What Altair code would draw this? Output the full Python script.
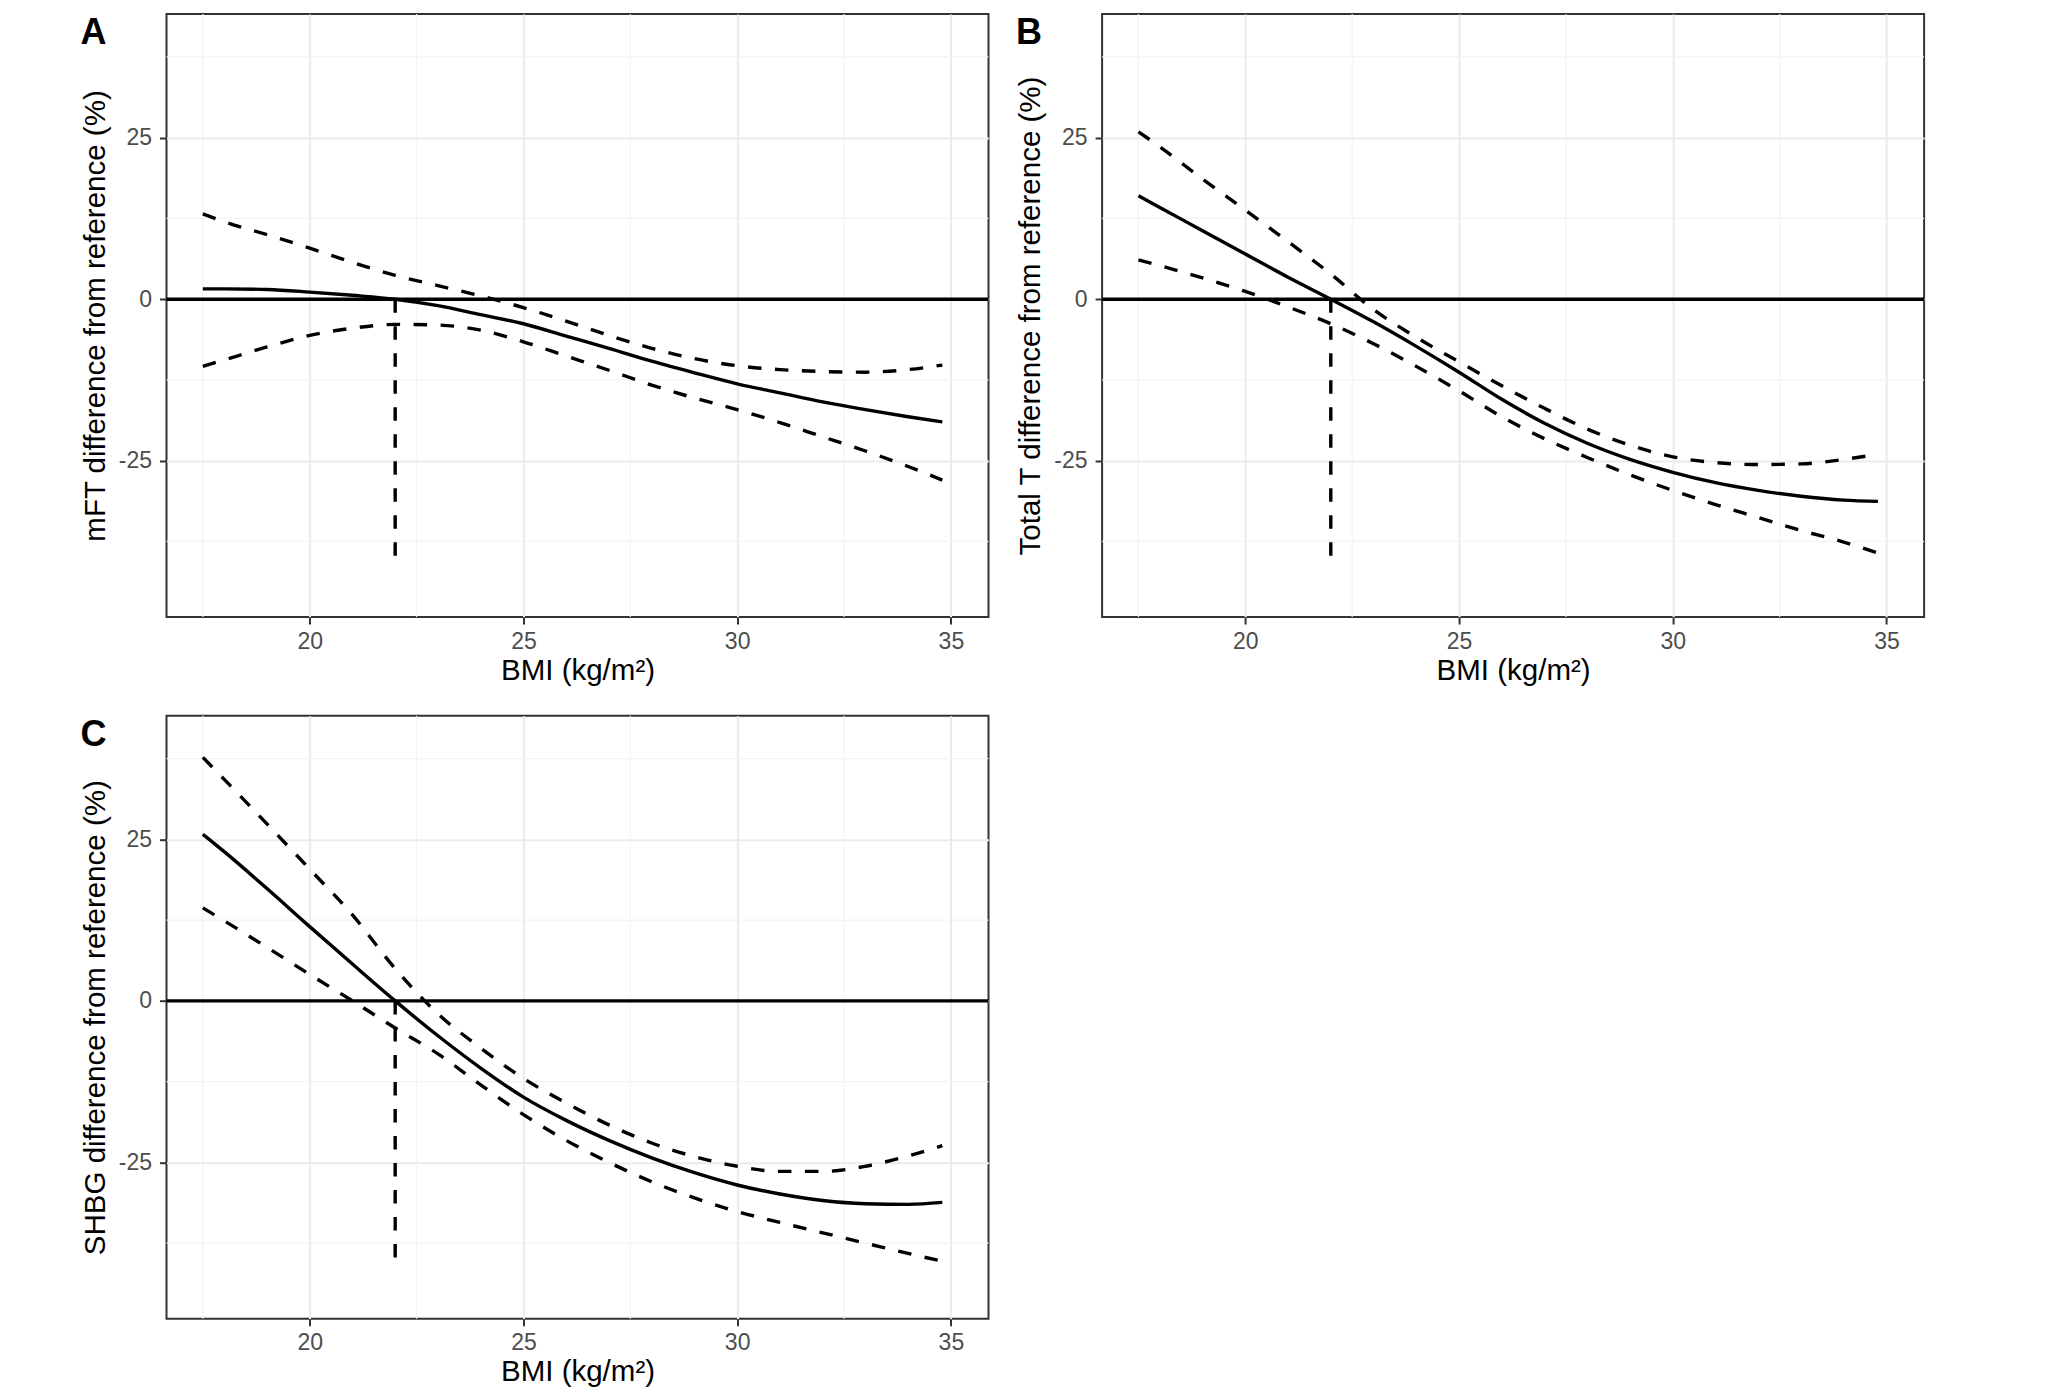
import altair as alt
import pandas as pd

# ---- data ----
bmi = [17.5, 18, 19, 20, 21, 22, 23, 24, 25, 26, 27, 28, 29, 30, 31, 32, 33, 34, 34.8]

a_est = [1.6, 1.6, 1.5, 1.1, 0.6, 0.0, -1.0, -2.4, -3.8, -5.7, -7.6, -9.6, -11.4, -13.1, -14.5, -15.9, -17.1, -18.2, -19.0]
a_low = [-10.4, -9.4, -7.4, -5.6, -4.5, -3.9, -4.0, -4.8, -6.6, -8.8, -11.0, -13.3, -15.3, -17.1, -19.1, -21.3, -23.5, -25.9, -28.0]
a_upp = [13.2, 12.0, 10.0, 7.9, 5.7, 3.7, 2.1, 0.5, -1.3, -3.4, -5.6, -7.6, -9.2, -10.3, -10.9, -11.2, -11.3, -10.9, -10.2]

b_est = [16.0, 14.2, 10.6, 7.0, 3.4, 0.0, -3.5, -7.3, -11.3, -15.5, -19.2, -22.3, -24.8, -26.8, -28.4, -29.6, -30.5, -31.1, -31.3]
b_low = [6.1, 5.2, 3.3, 1.2, -1.2, -3.8, -6.9, -10.4, -14.2, -18.2, -21.6, -24.5, -27.2, -29.6, -31.8, -33.8, -35.8, -37.6, -39.3]
b_upp = [25.9, 23.6, 18.6, 13.8, 8.9, 3.9, -1.6, -5.9, -9.7, -13.4, -16.9, -20.1, -22.6, -24.4, -25.3, -25.6, -25.5, -24.8, -24.0]

c_est = [25.8, 23.1, 17.4, 11.5, 5.7, 0.0, -5.4, -10.4, -14.9, -18.5, -21.6, -24.3, -26.6, -28.5, -29.9, -30.9, -31.4, -31.5, -31.2]
c_low = [14.4, 12.4, 8.3, 4.1, 0.0, -4.2, -8.2, -13.0, -17.6, -21.6, -25.0, -28.0, -30.5, -32.6, -34.3, -35.9, -37.5, -39.1, -40.3]
c_upp = [37.7, 34.3, 27.4, 20.4, 13.3, 5.0, -2.0, -7.3, -12.0, -15.8, -19.2, -22.0, -24.1, -25.6, -26.4, -26.4, -25.6, -24.0, -22.4]

ref_bmi = [22]
ref_top = [0]
ref_bottom = [-40]

x_ticks = [20, 25, 30, 35]
x_minor = [17.5, 22.5, 27.5, 32.5]
y_ticks = [-25, 0, 25]
y_minor = [-37.5, -12.5, 12.5, 37.5]

x_domain = [16.65, 35.88]
y_domain = [-49.2, 44.15]

FONT = "Liberation Sans"
W, H = 822, 603


def panel(letter, ytitle, est, low, upp):
    n = len(bmi)
    df = pd.DataFrame({
        "bmi": bmi * 3,
        "val": est + low + upp,
        "band": ["est"] * n + ["low"] * n + ["upp"] * n,
    })
    xs = alt.Scale(domain=x_domain, nice=False, zero=False)
    ys = alt.Scale(domain=y_domain, nice=False, zero=False)
    xaxis = alt.Axis(values=x_ticks, grid=True, gridColor="#EBEBEB", gridWidth=2,
                     domain=False, tickColor="#333333", tickWidth=2, tickSize=7,
                     labelFont=FONT, labelFontSize=23, labelColor="#4D4D4D", labelPadding=6,
                     labelExpr="'' + datum.value",
                     titleFont=FONT, titleFontSize=29.5, titleFontWeight="normal",
                     titleColor="black", titlePadding=3)
    yaxis = alt.Axis(values=y_ticks, grid=True, gridColor="#EBEBEB", gridWidth=2,
                     domain=False, tickColor="#333333", tickWidth=2, tickSize=7,
                     labelFont=FONT, labelFontSize=23, labelColor="#4D4D4D", labelPadding=8,
                     labelExpr="'' + datum.value",
                     titleFont=FONT, titleFontSize=29.5, titleFontWeight="normal",
                     titleColor="black", titlePadding=8)
    X = alt.X("bmi:Q", scale=xs, axis=xaxis, title="BMI (kg/m²)")
    Y = alt.Y("val:Q", scale=ys, axis=yaxis, title=ytitle)

    minor_v = alt.Chart(pd.DataFrame({"bmi": x_minor})).mark_rule(
        color="#F3F3F3", strokeWidth=1.2).encode(x=X)
    minor_h = alt.Chart(pd.DataFrame({"val": y_minor})).mark_rule(
        color="#F3F3F3", strokeWidth=1.2).encode(y=Y)
    zero = alt.Chart(pd.DataFrame({"val": [0]})).mark_rule(
        color="black", strokeWidth=3.4).encode(y=Y)
    vref = alt.Chart(pd.DataFrame({"bmi": ref_bmi, "val": ref_top, "val2": ref_bottom})).mark_rule(
        color="black", strokeWidth=3.4, strokeDash=[13.5, 13.5], strokeCap="butt").encode(
        x=X, y=Y, y2="val2:Q")
    base = alt.Chart(df)
    est_line = base.transform_filter(alt.datum.band == "est").mark_line(
        color="black", strokeWidth=3.4, interpolate="monotone").encode(x=X, y=Y)
    ci_lines = base.transform_filter(alt.datum.band != "est").mark_line(
        color="black", strokeWidth=3.4, strokeDash=[13.5, 13.5], strokeCap="butt",
        interpolate="monotone").encode(x=X, y=Y, detail="band:N")
    lab = alt.Chart(pd.DataFrame({"t": [letter]})).mark_text(
        font=FONT, fontSize=36, fontWeight="bold", color="black",
        align="center", baseline="alphabetic").encode(
        text="t:N", x=alt.value(-73), y=alt.value(30))
    return alt.layer(minor_v, minor_h, zero, vref, ci_lines, est_line, lab).properties(
        width=W, height=H)


pA = panel("A", "mFT difference from reference (%)", a_est, a_low, a_upp)
pB = panel("B", "Total T difference from reference (%)", b_est, b_low, b_upp)
pC = panel("C", "SHBG difference from reference (%)", c_est, c_low, c_upp)

chart = alt.concat(pA, pB, pC, columns=2, spacing={"row": 98.7, "column": 113.6},
                   bounds="flush").properties(
    padding={"left": 70.5, "top": 4, "right": 5, "bottom": 5},
    background="white",
).configure_view(stroke="#333333", strokeWidth=2)

chart.save("out.html", embed_options={"renderer": "svg", "actions": False})
